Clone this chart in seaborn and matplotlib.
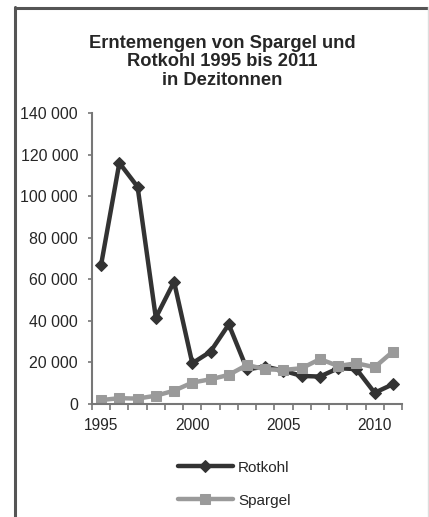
import pandas as pd
import matplotlib.pyplot as plt
import seaborn as sns
from matplotlib.lines import Line2D
from matplotlib.ticker import FuncFormatter

years = list(range(1995, 2012))
rotkohl = [67000, 116000, 104500, 41500, 58800, 19600, 25200, 38300, 16700, 18000,
           16000, 13500, 13200, 17200, 16800, 5400, 9500]
spargel = [1900, 2800, 2600, 4000, 6400, 10300, 11900, 14000, 18800, 16700,
           16400, 17200, 21600, 18300, 19600, 17700, 25200]

df = pd.DataFrame({'Jahr': years, 'Rotkohl': rotkohl, 'Spargel': spargel})

sns.set_style('white')
plt.rcParams['font.family'] = ['Liberation Sans', 'DejaVu Sans']

fig = plt.figure(figsize=(4.29, 5.17), dpi=100)
W, H = 429, 517
ax = fig.add_axes([92 / W, 1 - 404 / H, (402 - 92) / W, (404 - 113) / H])

sns.lineplot(data=df, x='Jahr', y='Rotkohl', ax=ax, color='#333333', lw=3.2,
             marker='D', markersize=6.5, markeredgecolor='#333333', label='Rotkohl')
sns.lineplot(data=df, x='Jahr', y='Spargel', ax=ax, color='#9a9a9a', lw=3.2,
             marker='s', markersize=7.5, markeredgecolor='#9a9a9a', label='Spargel')

ax.set_xlim(1994.5, 2011.5)
ax.set_ylim(0, 140000)
ax.set_yticks(range(0, 140001, 20000))
ax.yaxis.set_major_formatter(FuncFormatter(lambda v, p: f'{int(v):,}'.replace(',', ' ')))
ax.set_xticks([1995, 2000, 2005, 2010])
ax.set_xticks([y + 0.5 for y in range(1994, 2012)], minor=True)
ax.tick_params(axis='x', which='major', length=0, pad=10, labelsize=11.2)
ax.tick_params(axis='x', which='minor', length=4, width=1.2, color='#777777', direction='out')
ax.tick_params(axis='y', length=3, width=1.2, color='#777777', labelsize=11.4, pad=7)
ax.tick_params(left=True, bottom=True, which='both')
ax.set_xlabel('')
ax.set_ylabel('')
for s in ['top', 'right']:
    ax.spines[s].set_visible(False)
for s in ['left', 'bottom']:
    ax.spines[s].set_color('#777777')
    ax.spines[s].set_linewidth(1.5)

leg = ax.legend(loc='upper center', bbox_to_anchor=(234 / W, 1 - 447 / H),
                bbox_transform=fig.transFigure, frameon=False, fontsize=11,
                handlelength=3.6, labelspacing=1.25, handletextpad=0.35)

fig.text(222 / W, 1 - 62 / H, 'Erntemengen von Spargel und\nRotkohl 1995 bis 2011\nin Dezitonnen',
         ha='center', va='center', fontsize=13.2, fontweight='bold', linespacing=1.1)

# outer frame
fig.add_artist(Line2D([15 / W, 15 / W], [0, 1 - 7 / H], transform=fig.transFigure,
                      color='#555555', lw=2.2))
fig.add_artist(Line2D([15 / W, 1], [1 - 7.5 / H, 1 - 7.5 / H], transform=fig.transFigure,
                      color='#555555', lw=2.2))
fig.add_artist(Line2D([427.5 / W, 427.5 / W], [0, 1 - 7 / H], transform=fig.transFigure,
                      color='#dddddd', lw=1))

fig.savefig('out.png', dpi=100)
